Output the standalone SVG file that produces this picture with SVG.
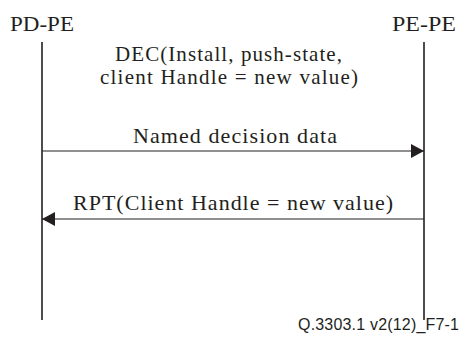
<svg xmlns="http://www.w3.org/2000/svg" width="460" height="342" viewBox="0 0 460 342">
<style>
.t{font-family:"Liberation Serif","Times New Roman",serif;font-size:22px;fill:#231f20}
.d{font-size:21px}
.f{font-family:"Liberation Sans",Arial,sans-serif;font-size:16px;fill:#231f20}
.ll{stroke:#231f20;stroke-width:1.6;fill:none}
.msg{stroke:#231f20;stroke-width:1.2;fill:none}
</style>
<defs>
<marker id="ah" markerUnits="userSpaceOnUse" markerWidth="14" markerHeight="14" viewBox="0 0 14 14" refX="13" refY="7" orient="auto">
<path d="M0,0 L13,7 L0,14 Z" fill="#231f20"/>
</marker>
</defs>
<g id="pd-pe">
<text class="t" x="10" y="31" textLength="64" lengthAdjust="spacingAndGlyphs">PD-PE</text>
<line class="ll" x1="42" y1="42" x2="42" y2="320"/>
</g>
<g id="pe-pe">
<text class="t" x="392" y="31" textLength="64" lengthAdjust="spacingAndGlyphs">PE-PE</text>
<line class="ll" x1="424" y1="42" x2="424" y2="320"/>
</g>
<g id="connectors">
<line class="msg" x1="42" y1="151" x2="424" y2="151" marker-end="url(#ah)"/>
<text class="t d" x="115" y="61" textLength="227" lengthAdjust="spacing">DEC(Install, push-state,</text>
<text class="t d" x="100" y="84" textLength="258" lengthAdjust="spacing">client Handle = new value)</text>
<text class="t" x="133" y="143" textLength="204" lengthAdjust="spacing">Named decision data</text>
<line class="msg" x1="424" y1="219" x2="42" y2="219" marker-end="url(#ah)"/>
<text class="t" x="73" y="210" textLength="320" lengthAdjust="spacing">RPT(Client Handle = new value)</text>
</g>
<text class="f" x="298" y="330" textLength="161" lengthAdjust="spacing">Q.3303.1 v2(12)_F7-1</text>
</svg>
